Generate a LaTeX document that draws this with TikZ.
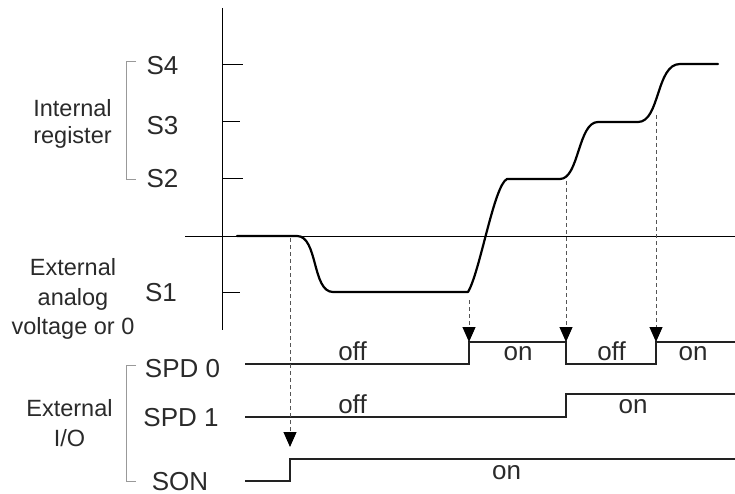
\documentclass[tikz,border=0pt]{standalone}
\usepackage{fontspec}
\setmainfont{Liberation Sans}
\usetikzlibrary{arrows.meta}
\definecolor{txt}{HTML}{2A2A2A}
\definecolor{sig}{HTML}{222222}
\definecolor{brk}{HTML}{999999}
\definecolor{dsh}{HTML}{555555}
\begin{document}
\begin{tikzpicture}[x=1pt,y=-1pt,
  lbl/.style={anchor=base,inner sep=0pt,text=txt,font=\fontsize{23.5}{28}\selectfont},
  big/.style={lbl,font=\fontsize{26}{30}\selectfont},
  axisline/.style={draw=black,line width=1pt},
  sigline/.style={draw=sig,line width=1.1pt},
  curveline/.style={draw=black,line width=2.2pt,line cap=round,line join=round},
  bracket/.style={draw=brk,line width=0.9pt},
  dashline/.style={draw=dsh,line width=1pt,dash pattern=on 4pt off 3pt,
     -{Triangle[length=15pt,width=13pt,color=black,fill=black]}}]
\useasboundingbox (0,0) rectangle (735,494);
% axes
\coordinate (vtop) at (222,8);
\coordinate (vbot) at (222,330);
\coordinate (hl) at (185,236);
\coordinate (hr) at (735,236);
\draw[axisline] (vtop) -- (vbot);
\draw[axisline] (hl) -- (hr);
% ticks
\coordinate (t4) at (222,65); \coordinate (t4e) at (243,65);
\coordinate (t3) at (222,122); \coordinate (t3e) at (240,122);
\coordinate (t2) at (222,179); \coordinate (t2e) at (243,179);
\coordinate (t1) at (222,292); \coordinate (t1e) at (240,292);
\draw[axisline] (t4) -- (t4e);
\draw[axisline] (t3) -- (t3e);
\draw[axisline] (t2) -- (t2e);
\draw[axisline] (t1) -- (t1e);
% level labels
\node[big] (s4) at (162.5,75) {S4};
\node[big] (s3) at (162.5,135) {S3};
\node[big] (s2) at (162.5,188) {S2};
\node[big] (s1) at (161,301.5) {S1};
\node[big] (spd0) at (182.5,377) {SPD 0};
\node[big] (spd1) at (181,426) {SPD 1};
\node[big] (son) at (180,490) {SON};
% group labels
\node[lbl] (int1) at (72.5,116.5) {Internal};
\node[lbl] (int2) at (72.5,144) {register};
\node[lbl] (ext1) at (73,275.5) {External};
\node[lbl] (ext2) at (73,305) {analog};
\node[lbl] (ext3) at (73,334) {voltage or 0};
\node[lbl] (io1) at (69.5,416.5) {External};
\node[lbl] (io2) at (69.5,446.5) {I/O};
% brackets
\coordinate (b1a) at (136,61); \coordinate (b1b) at (126,61);
\coordinate (b1c) at (126,179); \coordinate (b1d) at (136,179);
\draw[bracket] (b1a) -- (b1b) -- (b1c) -- (b1d);
\coordinate (b2a) at (136,365); \coordinate (b2b) at (126,365);
\coordinate (b2c) at (126,481); \coordinate (b2d) at (136,481);
\draw[bracket] (b2a) -- (b2b) -- (b2c) -- (b2d);
% analog curve
\draw[curveline] (237,236) -- (297,236)
  .. controls (318,236) and (312,292) .. (333,292)
  -- (468,292)
  .. controls (480,272) and (494,185) .. (507,179)
  -- (560,179)
  .. controls (579,179) and (578,122) .. (598,122)
  -- (638,122)
  .. controls (660,122) and (656,64) .. (680,64)
  -- (718,64);
% SPD 0
\draw[sigline] (245,364) -- (469,364) -- (469,342) -- (566,342) -- (566,364)
  -- (656,364) -- (656,342) -- (735,342);
% SPD 1
\draw[sigline] (245,417) -- (566,417) -- (566,394) -- (735,394);
% SON
\draw[sigline] (245,481) -- (290,481) -- (290,459) -- (735,459);
% signal labels
\node[big] (off0a) at (352.5,360.5) {off};
\node[big] (on0a) at (518,360.5) {on};
\node[big] (off0b) at (611.5,360.5) {off};
\node[big] (on0b) at (693,360.5) {on};
\node[big] (off1) at (352.5,413) {off};
\node[big] (on1) at (633,413) {on};
\node[big] (onson) at (506.5,479) {on};
% dashed arrows
\coordinate (d1s) at (290,238); \coordinate (d1e) at (290,447);
\coordinate (d2s) at (469,300); \coordinate (d2e) at (469,342);
\coordinate (d3s) at (566,181); \coordinate (d3e) at (566,342);
\coordinate (d4s) at (656,115); \coordinate (d4e) at (656,342);
\draw[dashline] (d1s) -- (d1e);
\draw[dashline] (d2s) -- (d2e);
\draw[dashline] (d3s) -- (d3e);
\draw[dashline] (d4s) -- (d4e);
\end{tikzpicture}
\end{document}
